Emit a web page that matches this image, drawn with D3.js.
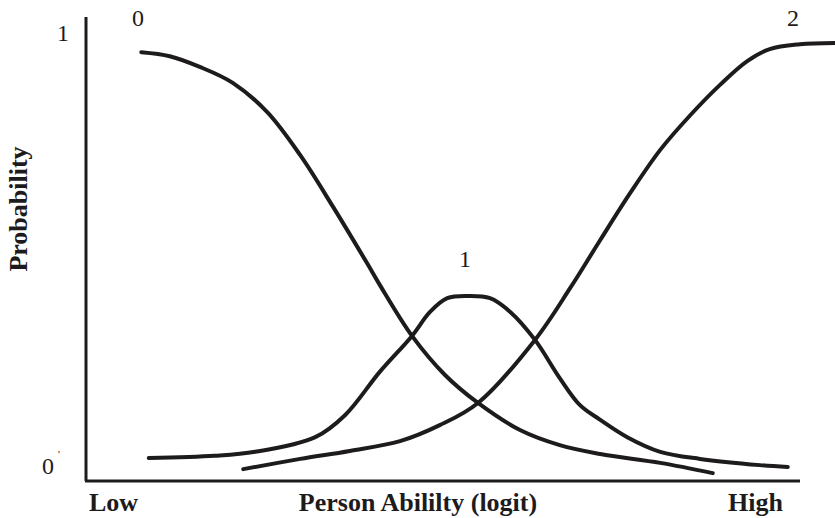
<!DOCTYPE html>
<html>
<head>
<meta charset="utf-8">
<script src="https://cdn.jsdelivr.net/npm/d3@7"></script>
<style>
  html, body { margin: 0; padding: 0; background: #fff; }
  svg { display: block; }
  text { font-family: "Liberation Serif", "Times New Roman", serif; fill: #1e1b1c; }
</style>
</head>
<body>
<svg id="chart" width="835" height="518"></svg>
<script>
// Category probability curves (x = person ability in logits, y = probability)
const category0 = [
  [-4.29, 0.950], [-3.91, 0.941], [-3.51, 0.917], [-3.07, 0.881], [-2.61, 0.815],
  [-2.17, 0.718], [-1.73, 0.601], [-1.28, 0.475], [-1.11, 0.426], [-0.68, 0.311],
  [-0.24, 0.223], [0.20, 0.160], [0.76, 0.099], [1.29, 0.065], [1.83, 0.045],
  [2.63, 0.025], [3.33, 0.002]
];
const category1 = [
  [-4.19, 0.036], [-3.31, 0.041], [-2.77, 0.050], [-1.97, 0.083], [-1.57, 0.133],
  [-1.11, 0.230], [-0.68, 0.311], [-0.44, 0.365], [-0.21, 0.396], [0.07, 0.401],
  [0.36, 0.396], [0.63, 0.365], [0.96, 0.302], [1.29, 0.216], [1.56, 0.155],
  [1.83, 0.122], [2.19, 0.083], [2.63, 0.050], [3.16, 0.034], [3.96, 0.020],
  [4.33, 0.016]
];
const category2 = [
  [-2.93, 0.011], [-2.17, 0.034], [-1.51, 0.052], [-0.84, 0.074], [-0.31, 0.110],
  [0.20, 0.160], [0.96, 0.302], [1.43, 0.419], [1.83, 0.527], [2.23, 0.633],
  [2.63, 0.730], [3.03, 0.808], [3.43, 0.877], [3.79, 0.930], [4.09, 0.957],
  [4.49, 0.968], [4.96, 0.971]
];
const seriesNames = ["0", "1", "2"];
const yTickLabels = ["0", "1"];
const xLabels = ["Low", "Person Abililty (logit)", "High"];
const yTitle = "Probability";

const svg = d3.select("#chart");
const x = d3.scaleLinear().domain([-5, 5]).range([88, 838]);
const y = d3.scaleLinear().domain([0, 1]).range([474, 30]);
const ink = "#1e1b1c";

// axes (L-shaped frame)
svg.append("line").attr("x1", 86).attr("x2", 86).attr("y1", 17).attr("y2", 481)
  .attr("stroke", ink).attr("stroke-width", 3);
svg.append("line").attr("x1", 85).attr("x2", 800).attr("y1", 481).attr("y2", 481)
  .attr("stroke", ink).attr("stroke-width", 3);

// curves
const line = d3.line().x(d => x(d[0])).y(d => y(d[1])).curve(d3.curveCatmullRom.alpha(0.5));
[category0, category1, category2].forEach(s => {
  svg.append("path").datum(s).attr("d", line)
    .attr("fill", "none").attr("stroke", ink).attr("stroke-width", 4)
    .attr("stroke-linecap", "round").attr("stroke-linejoin", "round");
});

// curve labels
const labelPos = [[138, 26], [465, 267], [793, 26]];
seriesNames.forEach((n, i) => {
  svg.append("text").attr("x", labelPos[i][0]).attr("y", labelPos[i][1])
    .attr("text-anchor", "middle").style("font-size", "24px").text(n);
});

// y tick labels
svg.append("text").attr("x", 48).attr("y", 474).attr("text-anchor", "middle")
  .style("font-size", "24px").text(yTickLabels[0]);
svg.append("text").attr("x", 59).attr("y", 458).attr("text-anchor", "middle")
  .style("font-size", "11px").text("'");
svg.append("text").attr("x", 63).attr("y", 41).attr("text-anchor", "middle")
  .style("font-size", "24px").text(yTickLabels[1]);

// x labels
svg.append("text").attr("x", 89).attr("y", 511).attr("text-anchor", "start")
  .style("font-size", "26px").style("font-weight", "bold").text(xLabels[0]);
svg.append("text").attr("x", 418).attr("y", 511).attr("text-anchor", "middle")
  .style("font-size", "26px").style("font-weight", "bold").text(xLabels[1]);
svg.append("text").attr("x", 728).attr("y", 511).attr("text-anchor", "start")
  .style("font-size", "26px").style("font-weight", "bold").text(xLabels[2]);

// y title
svg.append("text").attr("transform", "translate(27,209) rotate(-90)")
  .attr("text-anchor", "middle").style("font-size", "26px").style("font-weight", "bold")
  .text(yTitle);
</script>
</body>
</html>
